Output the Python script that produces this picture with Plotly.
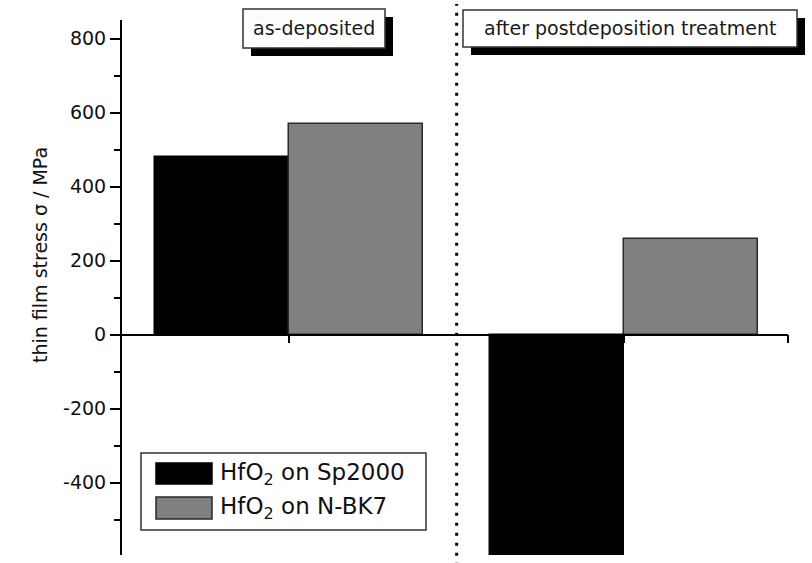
import plotly.graph_objects as go

# ---- data ----
groups = ["as-deposited", "after postdeposition treatment"]
group_pos = [1, 2]
series_names = ["HfO<sub>2</sub> on Sp2000", "HfO<sub>2</sub> on N-BK7"]
sp2000 = [480, -600]
nbk7 = [568, 259]
y_ticks = [-400, -200, 0, 200, 400, 600, 800]
y_ticktext = ["-400", "-200", "0", "200", "400", "600", "800"]
y_title = "thin film stress σ / MPa"

colors = ["#000000", "#808080"]
edges = ["#000000", "#2a2a2a"]
offsets = [-0.4, 0.0]

FONT = "DejaVu Sans"
W, H = 812, 563
ML, MR, MT, MB = 122, 24, 20, 8
PW, PH = W - ML - MR, H - MT - MB
YMIN, YMAX = -595, 850
XMIN, XMAX = 0.5, 2.49


def px(xp):
    return (xp - ML) / PW


def py(yp):
    return (H - MB - yp) / PH


fig = go.Figure()
for vals, name, c, e, off in zip([sp2000, nbk7], series_names, colors, edges, offsets):
    fig.add_trace(go.Bar(
        x=group_pos, y=vals, name=name, width=0.4, offset=off,
        marker=dict(color=c, line=dict(color=e, width=1.5)),
        showlegend=False,
    ))

# vertical dotted separator between the two groups
fig.add_shape(type="line", xref="x", yref="paper", x0=1.5, x1=1.5, y0=-0.02, y1=1.03,
              line=dict(color="black", width=3, dash="3px,7px"))

# group label boxes with drop shadow (left, top, right, bottom in pixels)
box_specs = [(243, 9, 385, 48), (463, 10, 797, 47)]
SH = 8
for text, (l, t, r, b) in zip(groups, box_specs):
    fig.add_shape(type="rect", xref="paper", yref="paper",
                  x0=px(l + SH), x1=px(r + SH), y0=py(b + SH), y1=py(t + SH),
                  line=dict(color="black", width=0), fillcolor="black")
    fig.add_shape(type="rect", xref="paper", yref="paper",
                  x0=px(l), x1=px(r), y0=py(b), y1=py(t),
                  line=dict(color="#333333", width=1.5), fillcolor="white")
    fig.add_annotation(x=px((l + r) / 2), y=py((t + b) / 2), xref="paper", yref="paper", text=text,
                       showarrow=False, xanchor="center", yanchor="middle",
                       font=dict(family=FONT, size=19, color="#1a1a1a"))

# manual legend
fig.add_shape(type="rect", xref="paper", yref="paper", x0=px(141), x1=px(426), y0=py(530), y1=py(453),
              line=dict(color="#333333", width=1.5), fillcolor="white")
leg_rows = [(463, 484), (497, 519)]
for name, c, e, (t, b) in zip(series_names, colors, edges, leg_rows):
    fig.add_shape(type="rect", xref="paper", yref="paper", x0=px(156), x1=px(212), y0=py(b), y1=py(t),
                  line=dict(color=e, width=1.5), fillcolor=c)
    fig.add_annotation(x=px(218), y=py((t + b) / 2), xref="paper", yref="paper", text=name,
                       showarrow=False, xanchor="left", yanchor="middle",
                       font=dict(family=FONT, size=23, color="#111111"))

# y-axis title
fig.add_annotation(x=px(40), y=py(255), xref="paper", yref="paper", text=y_title,
                   showarrow=False, textangle=-90, xanchor="center", yanchor="middle",
                   font=dict(family=FONT, size=19, color="#111111"))

fig.update_layout(
    width=W, height=H,
    margin=dict(l=ML, r=MR, t=MT, b=MB),
    paper_bgcolor="white", plot_bgcolor="white",
    font=dict(family=FONT, color="#111111"),
    bargap=0,
    showlegend=False,
    xaxis=dict(range=[XMIN, XMAX], showgrid=False, zeroline=False, showline=True,
               linecolor="black", linewidth=1.5,
               anchor="free", position=(0 - YMIN) / (YMAX - YMIN),
               ticks="outside", ticklen=8, tickwidth=1.5, tickcolor="black",
               tickvals=[1, 2, XMAX], showticklabels=False),
    yaxis=dict(range=[YMIN, YMAX], showgrid=False, zeroline=False, showline=True,
               linecolor="black", linewidth=2,
               ticks="outside", ticklen=10, tickwidth=1.5, tickcolor="black",
               tickvals=y_ticks, ticktext=y_ticktext,
               tickfont=dict(family=FONT, size=19, color="#111111"),
               minor=dict(ticks="outside", ticklen=6, tickwidth=1.5, tickcolor="black",
                          tickvals=[-500, -300, -100, 100, 300, 500, 700])),
)

fig.write_html("out.html")
